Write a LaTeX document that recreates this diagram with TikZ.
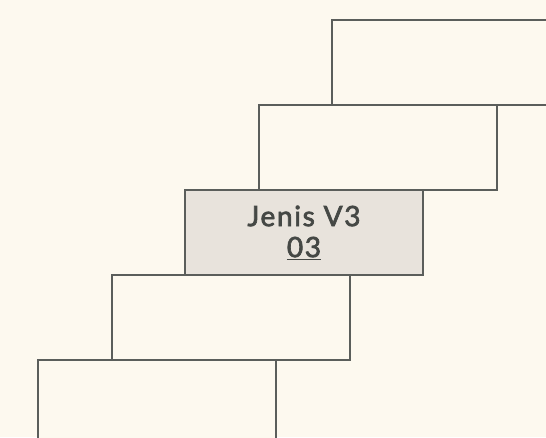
\documentclass[tikz,border=0pt]{standalone}
\usepackage{fontspec}
\setmainfont{Lato}
\newfontfamily\labelfont[LetterSpace=6,FakeBold=2.5]{Lato}
\definecolor{bg}{HTML}{FDF9EF}
\definecolor{edge}{HTML}{5B5E5B}
\definecolor{hl}{HTML}{E8E3DC}
\definecolor{txt}{HTML}{454845}
\tikzset{
  stair/.style={draw=edge, line width=2pt, fill=bg, minimum width=238pt, minimum height=85pt, inner sep=0pt, anchor=north west},
  stairhl/.style={stair, fill=hl},
}
\begin{document}
\begin{tikzpicture}[x=1pt,y=-1pt]
\fill[bg] (0,0) rectangle (546,437);
\useasboundingbox (0,0) rectangle (546,437);
\node[stair] (s1) at (331,19) {};
\node[stair] (s2) at (258,104) {};
\node[stair] (s4) at (111,274) {};
\node[stair] (s5) at (37,359) {};
\node[stairhl, align=center, text=txt, font=\labelfont\fontsize{28}{31}\selectfont] (s3) at (184,189) {Jenis V3\\\underline{03}};
\end{tikzpicture}
\end{document}
